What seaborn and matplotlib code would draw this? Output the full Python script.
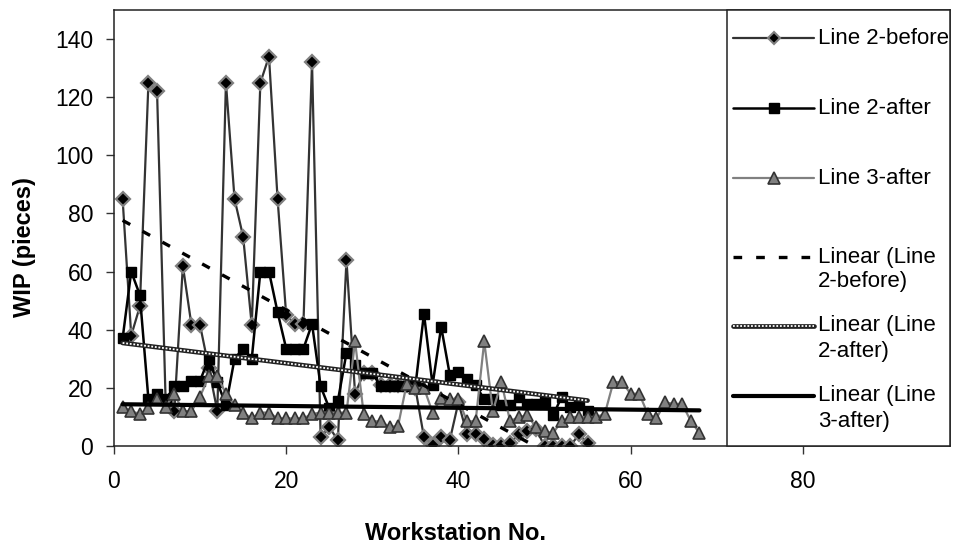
import numpy as np
import matplotlib
matplotlib.use("Agg")
import matplotlib.pyplot as plt
from matplotlib.lines import Line2D
from matplotlib.patches import Rectangle
import seaborn as sns

# ---------------- data ----------------
line2_before = [85, 38, 48, 125, 122, 15, 12, 62, 41.5, 41.5,
                27, 12, 125, 85, 72, 41.5, 125, 134, 85, 45,
                42, 42, 132, 3, 6.5, 2, 64, 18, 25, 25,
                21, 21, 21, 21, 20, 3, 0.5, 3, 2, 15,
                4, 4, 2.5, 0.5, 0.5, 1, 4, 5, 6, 0,
                0, 0, 0, 4, 1]
line2_after = [37, 60, 52, 16, 18, 16, 20.5, 20.5, 22.5, 22.5,
               30, 22, 14, 30, 33.5, 30, 60, 60, 46, 33.5,
               33.5, 33.5, 42, 20.5, 13, 15.5, 32, 28, 25, 25,
               20.5, 20.5, 20.5, 20.5, 20.5, 45.5, 21, 41, 24.5, 25.5,
               23, 21, 16, 16, 14, 14, 17, 14.5, 14.5, 15.5,
               10.5, 17, 13.5, 14.5, 12]
line3_after = [13.5, 12, 11, 13, 16, 13.5, 18, 12, 12, 17,
               24, 24, 18, 14, 11.5, 9.5, 11.5, 11.5, 9.5, 9.5,
               9.5, 9.5, 11, 11.5, 11.5, 11.5, 11.5, 36, 11, 8.5,
               8.5, 6.5, 7, 21.5, 20, 20, 11.5, 16.5, 16, 16,
               8.5, 8.5, 36, 12, 22, 8.5, 10, 10.5, 6.5, 5,
               4.5, 8.5, 10, 10, 10, 10, 11, 22, 22, 18,
               18, 11, 9.5, 15, 14.5, 14.5, 8.5, 4.5]

series_labels = ["Line 2-before", "Line 2-after", "Line 3-after",
                 "Linear (Line\n2-before)", "Linear (Line\n2-after)", "Linear (Line\n3-after)"]
x_ticks = [0, 20, 40, 60, 80]
y_ticks = [0, 20, 40, 60, 80, 100, 120, 140]
x_title = "Workstation No."
y_title = "WIP (pieces)"

ws_2b = np.arange(1, len(line2_before) + 1)
ws_2a = np.arange(1, len(line2_after) + 1)
ws_3a = np.arange(1, len(line3_after) + 1)

# ---------------- style ----------------
sns.set_style("white")
plt.rcParams['font.family'] = ['Liberation Sans', 'DejaVu Sans']
plt.rcParams['text.color'] = 'black'

W, H = 956, 560
fig = plt.figure(figsize=(W / 100, H / 100), dpi=100)
L, R, T, B = 114, 950, 10, 446
ax = fig.add_axes([L / W, 1 - B / H, (R - L) / W, (B - T) / H])

GRAY = "#808080"
DGRAY = "#333333"

style_2b = dict(color=DGRAY, lw=1.6, marker="D", markersize=7,
                markerfacecolor="black", markeredgecolor=GRAY, markeredgewidth=1.6)
style_2a = dict(color="black", lw=1.8, marker="s", markersize=7,
                markerfacecolor="black", markeredgecolor="black", markeredgewidth=1)
style_3a = dict(color=GRAY, lw=1.6, marker="^", markersize=9,
                markerfacecolor=GRAY, markeredgecolor=DGRAY, markeredgewidth=1.2)

sns.lineplot(x=ws_2b, y=line2_before, ax=ax, zorder=2, **style_2b)
sns.lineplot(x=ws_2a, y=line2_after, ax=ax, zorder=3, **style_2a)
sns.lineplot(x=ws_3a, y=line3_after, ax=ax, zorder=4, **style_3a)

# linear trend lines (OLS fit done by seaborn)
tr_2b = dict(color="black", lw=2.4, dashes=(2.6, 4.2), solid_capstyle="butt", dash_capstyle="butt")
tr_2a_base = dict(color="#222222", lw=3.4)
tr_2a_dots = dict(color="white", lw=1.3, dashes=(1.0, 1.0))
tr_3a = dict(color="black", lw=3.0)

sns.regplot(x=ws_2b, y=np.array(line2_before), ax=ax, scatter=False, ci=None,
            line_kws=dict(zorder=6, **tr_2b))
sns.regplot(x=ws_2a, y=np.array(line2_after), ax=ax, scatter=False, ci=None,
            line_kws=dict(zorder=6, **tr_2a_base))
sns.regplot(x=ws_2a, y=np.array(line2_after), ax=ax, scatter=False, ci=None,
            line_kws=dict(zorder=7, **tr_2a_dots))
sns.regplot(x=ws_3a, y=np.array(line3_after), ax=ax, scatter=False, ci=None,
            line_kws=dict(zorder=6, **tr_3a))

ax.set_xlim(0, (R - L) / 8.61)
ax.set_ylim(0, 150)
ax.set_xticks(x_ticks)
ax.set_yticks(y_ticks)
ax.tick_params(axis="both", direction="out", length=6, width=1.0, color="#333333",
               labelsize=16.5, labelcolor="black", bottom=True, left=True)
ax.tick_params(axis="x", pad=11)
ax.tick_params(axis="y", pad=9)
for s in ax.spines.values():
    s.set_color("#222222")
    s.set_linewidth(1.1)

ax.set_xlabel(x_title, fontsize=17, fontweight="bold", color="black")
ax.xaxis.set_label_coords((455 - L) / (R - L), (B - 533) / (B - T))
ax.xaxis.label.set_verticalalignment("center")
ax.set_ylabel(y_title, fontsize=17, fontweight="bold", color="black")
ax.yaxis.set_label_coords((25 - L) / (R - L), (B - 247) / (B - T))
ax.yaxis.label.set_verticalalignment("center")

# ---------------- legend panel (drawn inside the axes frame) ----------------
lx0 = (727 - L) / (R - L)
ax.add_patch(Rectangle((lx0, 0), 1 - lx0, 1, transform=ax.transAxes,
                       facecolor="white", edgecolor="#222222", lw=1.1, zorder=20, clip_on=False))


def fx(px):
    return px / W


def fy(py):
    return 1 - py / H


rows = [38, 108, 178, 257, 326, 396]
h0, h1, tx = 733, 814, 818
handle_styles = [
    [dict(color=DGRAY, lw=1.6), dict(ls="none", marker="D", markersize=6.5, markerfacecolor="black",
                                     markeredgecolor=GRAY, markeredgewidth=1.5)],
    [dict(color="black", lw=1.8), dict(ls="none", marker="s", markersize=7, markerfacecolor="black",
                                       markeredgecolor="black")],
    [dict(color=GRAY, lw=1.6), dict(ls="none", marker="^", markersize=8.5, markerfacecolor=GRAY,
                                    markeredgecolor=DGRAY, markeredgewidth=1.2)],
    [tr_2b],
    [tr_2a_base, tr_2a_dots],
    [tr_3a],
]
for i, (r, lab, hs) in enumerate(zip(rows, series_labels, handle_styles)):
    for k, st in enumerate(hs):
        if st.get("ls") == "none":
            fig.add_artist(Line2D([fx((h0 + h1) / 2)], [fy(r)], transform=fig.transFigure, zorder=30, **st))
        else:
            fig.add_artist(Line2D([fx(h0), fx(h1)], [fy(r), fy(r)], transform=fig.transFigure,
                                  zorder=30 + k, **st))
    if "\n" in lab:
        fig.text(fx(tx), fy(r + 12.5), lab, ha="left", va="center", fontsize=16,
                 linespacing=1.25, zorder=31, color="black")
    else:
        fig.text(fx(tx), fy(r), lab, ha="left", va="center", fontsize=16, zorder=31, color="black")

fig.savefig("out.png", dpi=100)
